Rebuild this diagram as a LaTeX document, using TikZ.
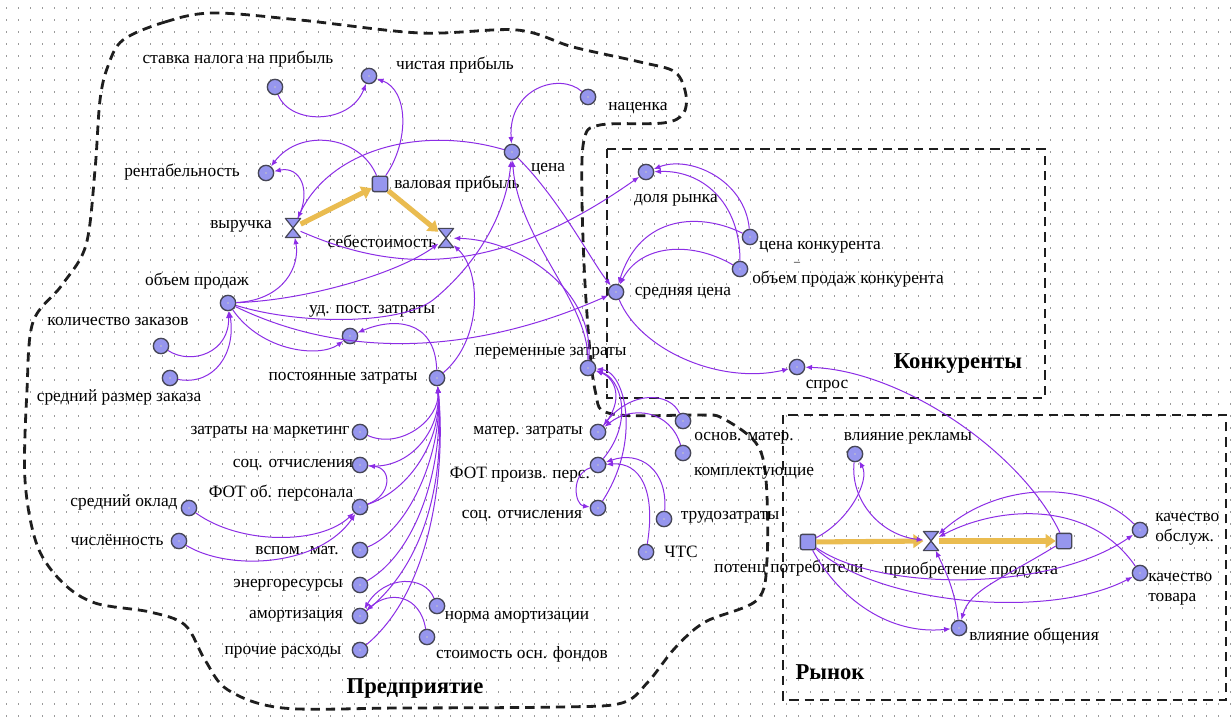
\documentclass[tikz,border=0pt]{standalone}
\usepackage{fontspec}
\setmainfont{Liberation Serif}
\usetikzlibrary{arrows.meta}
\definecolor{linkc}{RGB}{140,45,230}
\definecolor{flowc}{RGB}{234,188,80}
\definecolor{auxf}{RGB}{150,150,238}
\definecolor{auxd}{RGB}{70,70,86}
\definecolor{dotc}{RGB}{155,155,155}
\definecolor{bnd}{RGB}{30,30,30}
\begin{document}
\begin{tikzpicture}[x=0.75pt,y=-0.75pt,
  aux/.style={circle,fill=auxf,draw=auxd,line width=1pt,minimum size=11.5pt,inner sep=0pt,
    path picture={\fill[yellow!40] (path picture bounding box.center) circle (0.45pt);}},
  stock/.style={rectangle,rounded corners=1.5pt,fill=auxf,draw=auxd,line width=1pt,minimum size=11.5pt,inner sep=0pt},
  valve/.style={rectangle,minimum width=11pt,minimum height=14pt,inner sep=0pt},
  valveshape/.style={fill=auxf,draw=auxd,line width=0.9pt,line join=round},
  lbl/.style={font=\fontsize{13}{15}\selectfont,inner sep=0pt},
  ttl/.style={font=\fontsize{17}{18}\selectfont\bfseries,inner sep=0pt},
  link/.style={draw=linkc,line width=0.75pt,-{Latex[length=5pt,width=4pt]}},
  flow/.style={draw=flowc,line width=3.8pt,-{Triangle[length=7.5pt,width=10pt]}},
  bound/.style={draw=bnd,line width=2.1pt,dash pattern=on 7pt off 4.5pt}
]
\useasboundingbox (0,0) rectangle (1232,720);
\fill[white] (0,0) rectangle (1232,720);
% dotted grid
\foreach \yy in {8,20,...,716}
  \draw[dotc,line width=0.9pt,dash pattern=on 0.9pt off 8.1pt] (6,\yy) -- (1232,\yy);

% boundaries
\draw[bound] plot[smooth cycle, tension=0.55] coordinates {
 (123,40) (165,22) (213,13) (300,20) (420,33) (517,30) (573,47) (640,62) (675,72)
 (686,95) (683,114) (663,123) (600,125) (584,140) (582,200) (586,300) (595,390)
 (612,414) (700,415) (722,418) (756,443) (766,480) (767,560) (757,600) (705,622)
 (675,648) (648,682) (622,703) (560,707) (400,708) (283,708) (228,690) (205,660)
 (185,625) (150,612) (95,603) (62,582) (37,545) (25,480) (27,390) (33,322)
 (62,285) (86,245) (95,170) (100,100) (108,66)};
\draw[bound] (607,149) rectangle (1045,398);
\draw[bound] (783,415) rectangle (1226,700);

% auxiliaries
\node[aux] (stavka) at (275,87) {};
\node[aux] (chist) at (369,76) {};
\node[aux] (rent) at (266,173) {};
\node[aux] (cena) at (512,152) {};
\node[aux] (nacenka) at (588,97) {};
\node[aux] (dolya) at (646,172) {};
\node[aux] (cenak) at (750,237) {};
\node[aux] (obk) at (740,269) {};
\node[aux] (sredc) at (616,292) {};
\node[aux] (spros) at (797,367) {};
\node[aux] (obp) at (228,303) {};
\node[aux] (kolz) at (161,346) {};
\node[aux] (srz) at (170,378) {};
\node[aux] (udpz) at (350,336) {};
\node[aux] (postz) at (437,378) {};
\node[aux] (marketing) at (360,432) {};
\node[aux] (soca) at (360,465) {};
\node[aux] (fotob) at (360,507) {};
\node[aux] (sroklad) at (189,508) {};
\node[aux] (chisl) at (179,541) {};
\node[aux] (vspom) at (360,550) {};
\node[aux] (energo) at (360,585) {};
\node[aux] (amort) at (360,616) {};
\node[aux] (proch) at (360,650) {};
\node[aux] (norma) at (437,606) {};
\node[aux] (stoim) at (427,637) {};
\node[aux] (perz) at (588,368) {};
\node[aux] (materz) at (598,432) {};
\node[aux] (fotpr) at (598,465) {};
\node[aux] (socb) at (598,508) {};
\node[aux] (osnm) at (683,421) {};
\node[aux] (kompl) at (683,453) {};
\node[aux] (trud) at (664,519) {};
\node[aux] (chts) at (646,552) {};
\node[aux] (vlrekl) at (855,454) {};
\node[aux] (kachob) at (1140,530) {};
\node[aux] (kachtov) at (1140,573) {};
\node[aux] (vlobsch) at (959,628) {};
% stocks
\node[stock] (valpr) at (380,184) {};
\node[stock] (potenc) at (808,542) {};
\node[stock] (pokup) at (1064,541) {};
% valves
\node[valve] (vyr) at (293,228) {};
\node[valve] (sebest) at (446,238) {};
\node[valve] (priobr) at (931,541) {};
\foreach \v in {vyr,sebest,priobr}
  \draw[valveshape] (\v.north west) -- (\v.north east) -- (\v.south west) -- (\v.south east) -- cycle;

% labels
\node[lbl] (t1) at (238,59) {ставка налога на прибыль};
\node[lbl] (t2) at (455,65) {чистая прибыль};
\node[lbl] (t3) at (182,172) {рентабельность};
\node[lbl] (t4) at (457,184) {валовая прибыль};
\node[lbl] (t5) at (241,226) {выручка};
\node[lbl] (t6) at (382,241) {себестоимость};
\node[lbl] (t7) at (548,169) {цена};
\node[lbl] (t8) at (638,108) {наценка};
\node[lbl] (t9) at (676,200) {доля рынка};
\node[lbl] (t10) at (820,247) {цена конкурента};
\node[font=\fontsize{9}{9}\selectfont,inner sep=0pt] (t10b) at (797,264) {–};
\node[lbl] (t11) at (848,279) {объем продаж конкурента};
\node[lbl] (t12) at (683,293) {средняя цена};
\node[lbl] (t13) at (827,386) {спрос};
\node[ttl] (t14) at (958,364) {Конкуренты};
\node[lbl] (t15) at (197,281) {объем продаж};
\node[lbl] (t16) at (118,322) {количество заказов};
\node[lbl] (t17) at (119,397) {средний размер заказа};
\node[lbl] (t18) at (372,311) {уд. пост. затраты};
\node[lbl] (t19) at (343,378) {постоянные затраты};
\node[lbl] (t20) at (270,432) {затраты на маркетинг};
\node[lbl] (t21) at (293,465) {соц. отчисления};
\node[lbl] (t22) at (281,493) {ФОТ об. персонала};
\node[lbl] (t23) at (124,502) {средний оклад};
\node[lbl] (t24) at (117,540) {числённость};
\node[lbl] (t25) at (297,551) {вспом. мат.};
\node[lbl] (t26) at (288,585) {энергоресурсы};
\node[lbl] (t27) at (296,616) {амортизация};
\node[lbl] (t28) at (283,652) {прочие расходы};
\node[lbl] (t29) at (517,617) {норма амортизации};
\node[lbl] (t30) at (522,654) {стоимость осн. фондов};
\node[ttl] (t31) at (415,688) {Предприятие};
\node[lbl] (t32) at (551,353) {переменные затраты};
\node[lbl] (t33) at (528,432) {матер. затраты};
\node[lbl] (t34) at (520,475) {ФОТ произв. перс.};
\node[lbl] (t35) at (522,516) {соц. отчисления};
\node[lbl] (t36) at (744,438) {основ. матер.};
\node[lbl] (t37) at (754,473) {комплектующие};
\node[lbl] (t38) at (730,517) {трудозатраты};
\node[lbl] (t39) at (681,552) {ЧТС};
\node[lbl] (t40) at (789,568) {потенц потребители};
\node[lbl] (t41) at (971,570) {приобретение продукта};
\node[lbl] (t42) at (908,438) {влияние рекламы};
\node[lbl,anchor=west,align=left] (t43) at (1155,529) {качество\\обслуж.};
\node[lbl,anchor=west,align=left] (t44) at (1148,589) {качество\\товара};
\node[lbl] (t45) at (1034,636) {влияние общения};
\node[ttl] (t46) at (830,672) {Рынок};

% flows
\draw[flow] (vyr) -- (valpr);
\draw[flow] (valpr) -- (sebest);
\draw[flow] (potenc) -- (priobr);
\draw[flow] (priobr) -- (pokup);

% links: enterprise top
\draw[link] (stavka) .. controls (290,125) and (350,125) .. (chist);
\draw[link] (valpr) .. controls (410,140) and (408,90) .. (chist);
\draw[link] (valpr) .. controls (360,135) and (300,128) .. (rent);
\draw[link] (vyr) .. controls (312,190) and (300,166) .. (rent);
\draw[link] (cena) .. controls (420,125) and (330,150) .. (vyr);
\draw[link] (obp) .. controls (285,300) and (300,265) .. (vyr);
\draw[link] (vyr) .. controls (400,275) and (500,275) .. (dolya);
\draw[link] (nacenka) .. controls (560,72) and (508,88) .. (cena);
\draw[link] (cena) .. controls (560,200) and (592,262) .. (sredc);
\draw[link] (perz) .. controls (588,300) and (518,240) .. (cena);
\draw[link] (perz) .. controls (595,290) and (520,240) .. (sebest);
\draw[link] (obp) .. controls (300,325) and (400,325) .. (433,300) .. controls (470,270) and (505,222) .. (cena);
\draw[link] (obp) .. controls (310,300) and (400,272) .. (sebest);
\draw[link] (obp) .. controls (262,352) and (320,358) .. (udpz);
\draw[link] (obp) .. controls (350,362) and (480,352) .. (sredc);
\draw[link] (postz) .. controls (435,318) and (392,318) .. (udpz);
\draw[link] (postz) .. controls (482,340) and (482,272) .. (sebest);
\draw[link] (kolz) .. controls (192,366) and (230,352) .. (obp);
\draw[link] (srz) .. controls (215,386) and (236,352) .. (obp);
% fixed costs
\draw[link] (marketing) .. controls (400,450) and (440,420) .. (postz);
\draw[link] (soca) .. controls (410,470) and (441,430) .. (postz);
\draw[link] (fotob) .. controls (410,490) and (442,440) .. (postz);
\draw[link] (vspom) .. controls (410,530) and (443,450) .. (postz);
\draw[link] (energo) .. controls (420,550) and (444,460) .. (postz);
\draw[link] (amort) .. controls (430,560) and (445,470) .. (postz);
\draw[link] (proch) .. controls (432,590) and (446,470) .. (postz);
\draw[link] (fotob) .. controls (392,495) and (392,468) .. (soca);
\draw[link] (sroklad) .. controls (240,545) and (320,545) .. (fotob);
\draw[link] (chisl) .. controls (230,572) and (320,566) .. (fotob);
\draw[link] (norma) .. controls (425,575) and (385,575) .. (amort);
\draw[link] (stoim) .. controls (420,595) and (390,590) .. (amort);
% variable costs
\draw[link] (materz) .. controls (625,400) and (615,378) .. (perz);
\draw[link] (fotpr) .. controls (635,420) and (620,378) .. (perz);
\draw[link] (socb) .. controls (642,440) and (625,372) .. (perz);
\draw[link] (osnm) .. controls (670,392) and (632,390) .. (materz);
\draw[link] (kompl) .. controls (670,410) and (632,405) .. (materz);
\draw[link] (trud) .. controls (668,470) and (640,450) .. (fotpr);
\draw[link] (chts) .. controls (656,490) and (640,462) .. (fotpr);
\draw[link] (fotpr) .. controls (570,475) and (575,505) .. (socb);
% competitors
\draw[link] (cenak) .. controls (745,180) and (690,155) .. (dolya);
\draw[link] (obk) .. controls (740,200) and (700,170) .. (dolya);
\draw[link] (cenak) .. controls (700,212) and (640,215) .. (sredc);
\draw[link] (obk) .. controls (690,240) and (640,245) .. (sredc);
\draw[link] (sredc) .. controls (640,350) and (720,385) .. (spros);
\draw[link] (pokup) .. controls (1020,450) and (900,370) .. (spros);
% market
\draw[link] (potenc) .. controls (850,520) and (870,480) .. (vlrekl);
\draw[link] (vlrekl) .. controls (850,500) and (880,535) .. (priobr);
\draw[link] (kachob) .. controls (1090,480) and (1000,480) .. (priobr);
\draw[link] (kachtov) .. controls (1090,500) and (1000,505) .. (priobr);
\draw[link] (potenc) .. controls (880,592) and (1050,592) .. (kachob);
\draw[link] (potenc) .. controls (880,605) and (1050,620) .. (kachtov);
\draw[link] (potenc) .. controls (840,600) and (890,635) .. (vlobsch);
\draw[link] (pokup) .. controls (1000,580) and (970,590) .. (vlobsch);
\draw[link] (vlobsch) .. controls (955,590) and (945,570) .. (priobr);
\end{tikzpicture}
\end{document}
